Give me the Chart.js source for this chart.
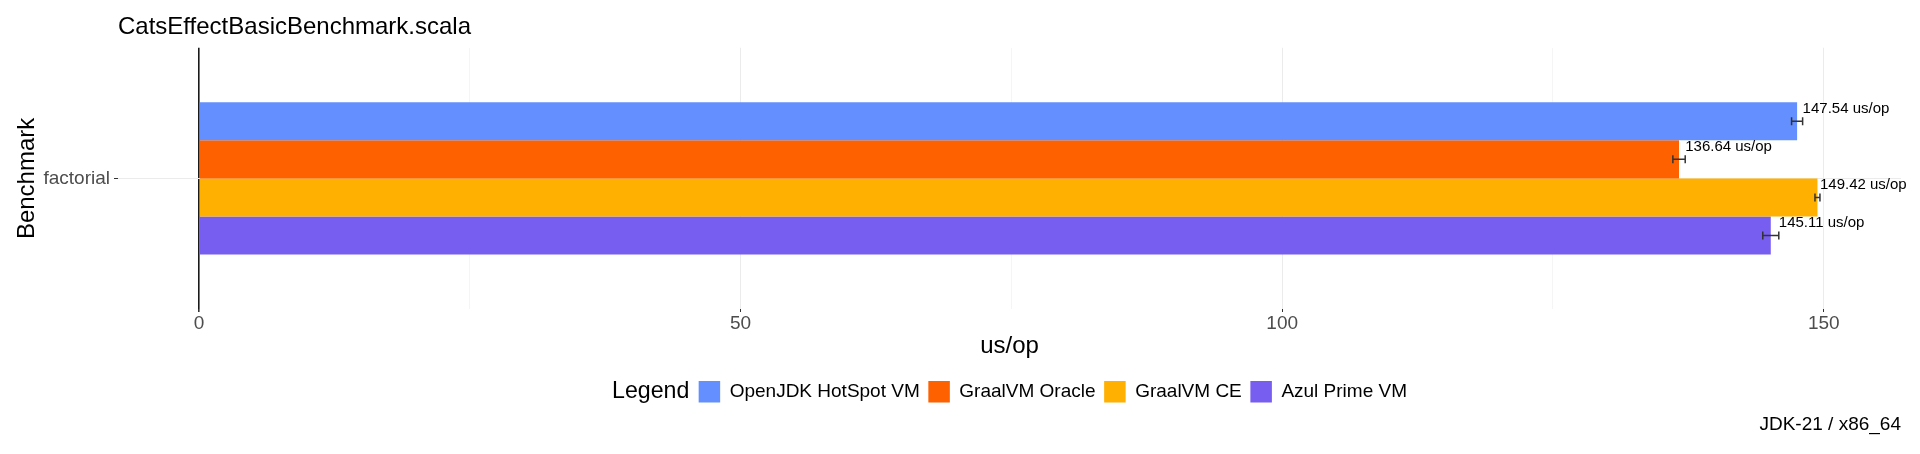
<!DOCTYPE html>
<html>
<head>
<meta charset="utf-8">
<script src="https://cdn.jsdelivr.net/npm/chart.js@4.4.1/dist/chart.umd.min.js"></script>
<style>
    html, body { margin: 0; padding: 0; background: #fff; }
    #wrap { width: 1920px; height: 454px; }
</style>
</head>
<body>
<div id="wrap"><canvas id="benchChart"></canvas></div>
<script>
// data
const benchmarks = ['factorial'];
const vmNames = ['OpenJDK HotSpot VM', 'GraalVM Oracle', 'GraalVM CE', 'Azul Prime VM'];
const scores = [147.54, 136.64, 149.42, 145.11];
const errors = [0.51, 0.57, 0.23, 0.74];
const xTicks = [0, 25, 50, 75, 100, 125, 150];
const xLabelStep = 50;

const palette = ['#648FFF', '#FE6100', '#FFB000', '#785EF0'];
const FONT = '"Liberation Sans", Arial, sans-serif';

Chart.defaults.font.family = FONT;

// ggplot style 5% expansion of the value axis
const hi = Math.max(...scores.map((s, i) => s + errors[i]));
const pad = hi * 0.05;

const errorBars = {
    id: 'errorBars',
    afterDatasetsDraw(chart) {
        const ctx = chart.ctx;
        const xs = chart.scales.x;
        ctx.save();
        chart.data.datasets.forEach((ds, i) => {
            const meta = chart.getDatasetMeta(i);
            meta.data.forEach((bar, j) => {
                const v = ds.data[j];
                const e = ds.errors[j];
                const x0 = xs.getPixelForValue(v - e);
                const x1 = xs.getPixelForValue(v + e);
                const y = bar.y;
                ctx.strokeStyle = '#333';
                ctx.lineWidth = 1.5;
                ctx.beginPath();
                ctx.moveTo(x0, y); ctx.lineTo(x1, y);
                ctx.moveTo(x0, y - 4); ctx.lineTo(x0, y + 4);
                ctx.moveTo(x1, y - 4); ctx.lineTo(x1, y + 4);
                ctx.stroke();
                ctx.fillStyle = '#000';
                ctx.font = '15px ' + FONT;
                ctx.textAlign = 'left';
                ctx.textBaseline = 'middle';
                ctx.fillText(v.toFixed(2) + ' us/op', x1, y - bar.height * 0.32);
            });
        });
        ctx.restore();
    }
};

// "Legend" title drawn inline to the left of the items
const legendTitle = {
    id: 'legendTitle',
    afterLayout(chart) {
        const ctx = chart.ctx;
        ctx.save();
        ctx.font = '23.2px ' + FONT;
        const w = ctx.measureText('Legend').width;
        ctx.restore();
        const shift = (w + 9.3) / 2;
        chart.legend.left += shift;
        chart.legend.right += shift;
    },
    afterDraw(chart) {
        const box = chart.legend.legendHitBoxes[0];
        if (!box) return;
        const ctx = chart.ctx;
        ctx.save();
        ctx.font = '23.2px ' + FONT;
        ctx.fillStyle = '#000';
        ctx.textAlign = 'right';
        ctx.textBaseline = 'middle';
        ctx.fillText('Legend', box.left - 9.3, box.top + box.height / 2);
        ctx.restore();
    }
};

const ctx = document.getElementById('benchChart').getContext('2d');
const benchChart = new Chart(ctx, {
    type: 'bar',
    data: {
        labels: benchmarks,
        datasets: vmNames.map((name, i) => ({
            label: name,
            data: [scores[i]],
            errors: [errors[i]],
            backgroundColor: palette[i],
            borderWidth: 0,
            categoryPercentage: 0.7 / 1.2,
            barPercentage: 1.0
        }))
    },
    options: {
        indexAxis: 'y',
        responsive: true,
        maintainAspectRatio: false,
        animation: false,
        devicePixelRatio: 1,
        layout: {
            padding: { top: 0, right: 19, bottom: 0, left: 0 }
        },
        plugins: {
            title: {
                display: true,
                text: 'CatsEffectBasicBenchmark.scala',
                align: 'start',
                fullSize: false,
                color: '#000',
                font: { size: 24, weight: 'normal' },
                padding: { top: 13, bottom: 6 }
            },
            subtitle: {
                display: true,
                text: 'JDK-21 / x86_64',
                position: 'bottom',
                align: 'end',
                fullSize: false,
                color: '#000',
                font: { size: 19, weight: 'normal' },
                padding: { top: 1, bottom: 17.6 }
            },
            legend: {
                position: 'bottom',
                fullSize: false,
                labels: {
                    boxWidth: 21.5,
                    boxHeight: 21.7,
                    padding: 8.6,
                    color: '#000',
                    font: { size: 19 }
                }
            },
            tooltip: { enabled: false }
        },
        scales: {
            x: {
                type: 'linear',
                min: -pad,
                max: hi + pad,
                afterBuildTicks: function(scale) {
                    scale.ticks = xTicks.map(v => ({ value: v }));
                },
                afterFit: function(scale) {
                    scale.height = 63.3;
                },
                border: { display: false },
                grid: {
                    color: function(c) {
                        if (c.tick.value === 0) return '#1a1a1a';
                        return c.tick.value % xLabelStep === 0 ? '#ebebeb' : '#f5f5f5';
                    },
                    lineWidth: function(c) {
                        return c.tick.value === 0 ? 1.6 : 1;
                    },
                    tickColor: function(c) {
                        return c.tick.value % xLabelStep === 0 ? '#333' : 'rgba(0,0,0,0)';
                    },
                    tickLength: 3
                },
                ticks: {
                    autoSkip: false,
                    maxRotation: 0,
                    padding: 0,
                    color: '#4d4d4d',
                    font: { size: 19 },
                    callback: function(value) {
                        return value % xLabelStep === 0 ? value : '';
                    }
                },
                title: {
                    display: true,
                    text: 'us/op',
                    color: '#000',
                    font: { size: 24 },
                    padding: { top: 0, bottom: 11.9 }
                }
            },
            y: {
                type: 'category',
                afterFit: function(scale) {
                    scale.width = 118;
                },
                border: { display: false },
                grid: {
                    offset: false,
                    color: '#ebebeb',
                    tickColor: '#333',
                    tickLength: 4
                },
                ticks: {
                    padding: 4,
                    color: '#4d4d4d',
                    font: { size: 19 }
                },
                title: {
                    display: true,
                    text: 'Benchmark',
                    color: '#000',
                    font: { size: 24 },
                    padding: { top: 12.6, bottom: 0 }
                }
            }
        }
    },
    plugins: [errorBars, legendTitle]
});
</script>
</body>
</html>
